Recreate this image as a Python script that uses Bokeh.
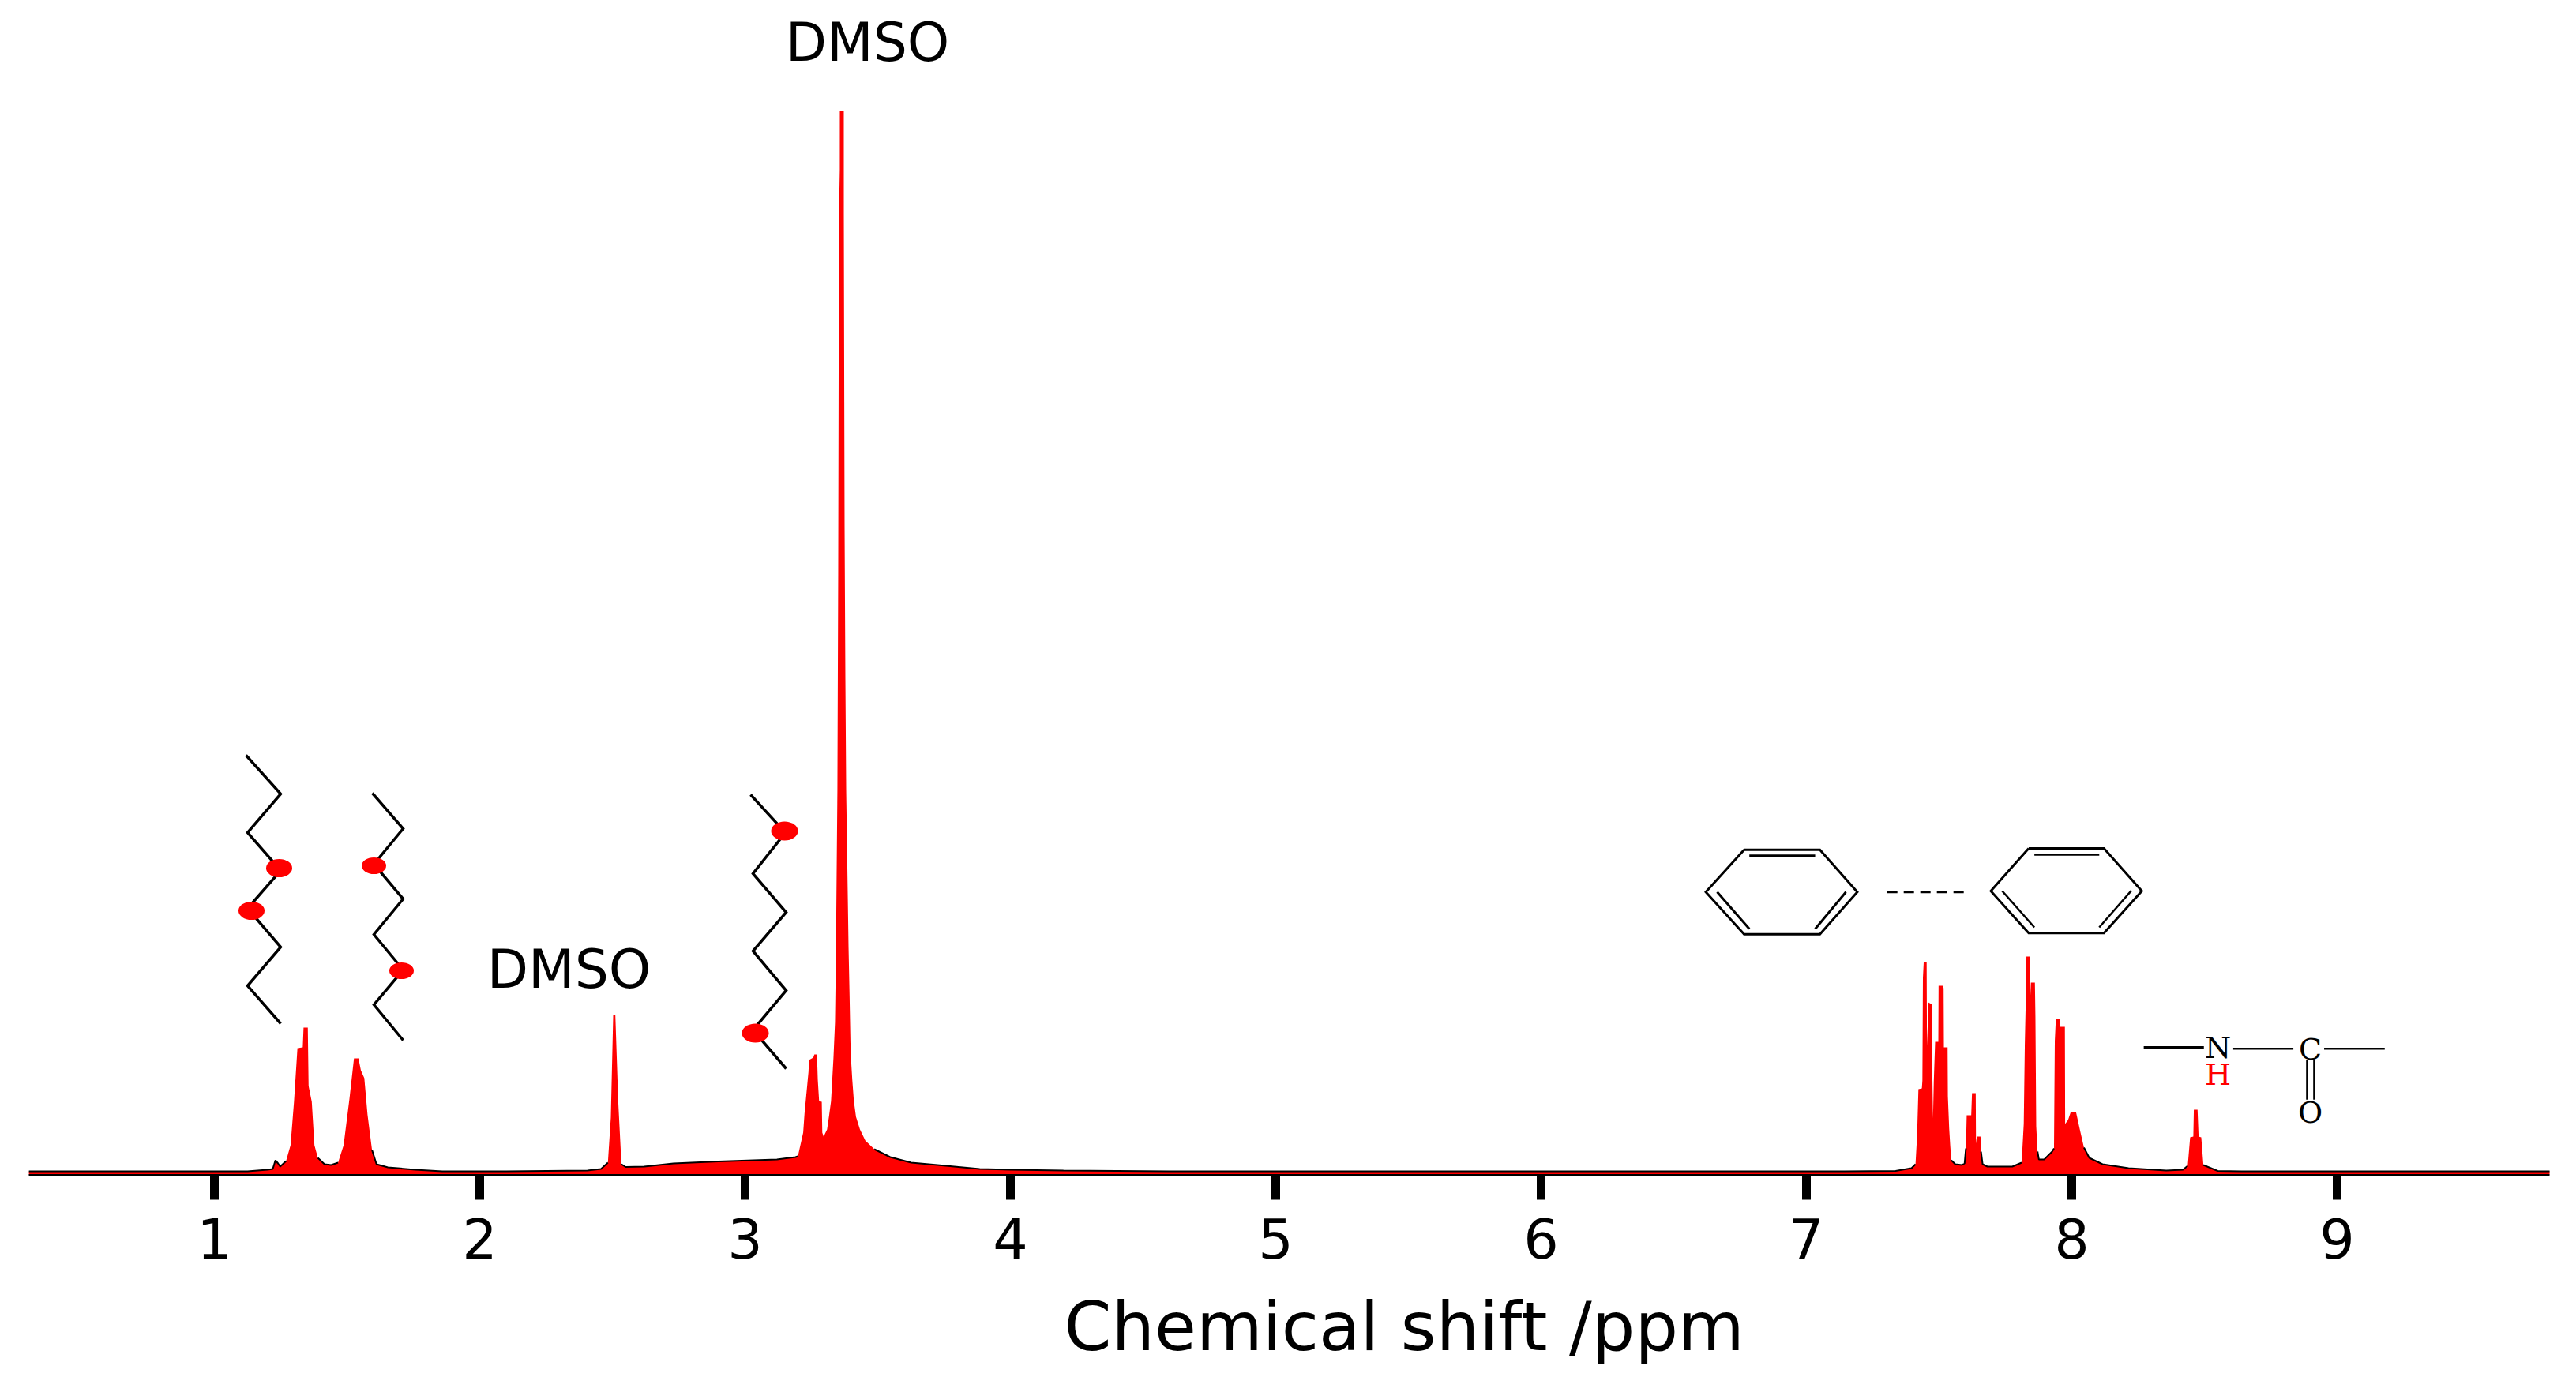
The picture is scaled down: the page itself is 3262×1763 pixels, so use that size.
from bokeh.plotting import figure
from bokeh.models import Range1d, FixedTicker, Title
from bokeh.core.properties import value
from bokeh.embed import file_html
from bokeh.resources import INLINE
import numpy as np

# ---------- spectrum ----------
ppm_low = [0.30, 0.60, 0.90, 1.125, 1.20, 1.22, 1.23, 1.24, 1.248, 1.27, 1.287, 1.30, 1.313, 1.333, 1.336,
           1.352, 1.355, 1.367, 1.377, 1.39, 1.415, 1.44, 1.466, 1.487, 1.509, 1.526, 1.543, 1.552, 1.565,
           1.577, 1.594, 1.611, 1.654, 1.757, 1.859, 2.10, 2.406, 2.457, 2.483, 2.494, 2.503, 2.511, 2.522,
           2.534, 2.55, 2.62, 2.73, 2.90, 3.12, 3.19]
int_low = [4, 4, 4, 4, 6, 7, 18, 14, 10, 17, 37, 92, 160, 161, 186,
           186, 112, 92, 37, 21, 13, 12, 15, 37, 96, 147, 147, 132, 122,
           76, 31, 13, 9, 6, 4, 4, 5, 7, 15, 72, 202, 202, 92,
           13, 9.5, 10, 14, 16.6, 19, 22]

ppm_water = [3.199, 3.219, 3.224, 3.239, 3.241, 3.257, 3.261, 3.271, 3.274, 3.279, 3.289, 3.291, 3.296, 3.309,
             3.316, 3.324, 3.333, 3.339, 3.342, 3.348, 3.351, 3.354, 3.357, 3.3571, 3.372, 3.3721, 3.375, 3.378,
             3.381, 3.390, 3.394, 3.398, 3.404, 3.41, 3.418, 3.433, 3.453, 3.487, 3.547, 3.626, 3.725, 3.884]
int_water = [23, 53, 77, 130, 145, 148, 152, 152, 120, 93, 92, 53, 48, 57,
             73, 93, 147, 193, 267, 487, 759, 1217, 1273, 1347, 1347, 1217, 822, 627,
             487, 287, 223, 153, 120, 93, 73, 57, 43, 32, 22, 15, 12, 7]

ppm_mid = [4.00, 4.20, 4.60, 5.00, 5.50, 6.00, 6.50, 7.144, 7.336]
int_mid = [6, 5, 4, 4, 4, 4, 4, 4, 4.5]

ppm_arom = [7.396, 7.411, 7.417, 7.422, 7.435, 7.437, 7.439, 7.442, 7.453, 7.454, 7.458, 7.459, 7.470, 7.472, 7.474,
            7.477, 7.480, 7.485, 7.497, 7.498, 7.513, 7.517, 7.518, 7.532, 7.533, 7.538, 7.542, 7.546, 7.561,
            7.586, 7.596, 7.601, 7.604, 7.621, 7.624, 7.638, 7.639, 7.642, 7.656, 7.658, 7.664, 7.682, 7.776,
            7.811, 7.819, 7.823, 7.826, 7.829, 7.842, 7.843, 7.846, 7.861, 7.863, 7.866, 7.871, 7.876, 7.896,
            7.926, 7.933, 7.936, 7.940, 7.954, 7.957, 7.974, 7.975, 7.986, 7.996, 8.016, 8.031, 8.046, 8.066,
            8.116, 8.214, 8.356, 8.419, 8.437, 8.446, 8.458, 8.46, 8.474, 8.478, 8.488, 8.496, 8.55, 8.64,
            9.00, 9.40, 9.81]
int_arom = [8, 13, 49, 108, 109, 119, 249, 269, 269, 186, 153, 218, 216, 216, 136,
            71, 118, 168, 168, 239, 239, 236, 161, 161, 99, 58, 36, 18, 13,
            12, 14, 33, 75, 75, 103, 103, 39, 48, 48, 29, 13, 10, 10,
            15, 64, 164, 211, 276, 276, 221, 243, 243, 199, 61, 29, 19, 19,
            29, 33, 169, 197, 197, 187, 187, 64, 69, 79, 79, 56, 34, 21,
            13, 8, 5, 6, 11, 47, 48, 82, 82, 48, 47, 12, 4.5, 4,
            4, 4, 4]

x_ticks = [1, 2, 3, 4, 5, 6, 7, 8, 9]
x_title = "Chemical shift /ppm"

ppm = np.array(ppm_low + ppm_water + ppm_mid + ppm_arom)
intensity = np.array(int_low + int_water + int_mid + int_arom, dtype=float)

# ---------- page layout ----------
W, H = 3246, 1763
X0, Y_AXIS = 271, 1487      # picture pixel of ppm = 1 and of intensity = 0
PX_PER_PPM = 336.0

def X(px):
    return 1 + (np.asarray(px, dtype=float) - X0) / PX_PER_PPM

def Y(py):
    return Y_AXIS - np.asarray(py, dtype=float)

p = figure(width=W, height=H, output_backend="svg", toolbar_location=None,
           x_range=Range1d(X(36), X(3228)), y_range=Range1d(-1, 1479),
           min_border_left=36, min_border_right=18, min_border_top=8, min_border_bottom=275,
           background_fill_color="white", border_fill_color="white")
p.outline_line_color = None
p.grid.visible = False
p.yaxis.visible = False

ax = p.xaxis[0]
ax.ticker = FixedTicker(ticks=x_ticks)
ax.axis_line_color = "black"
ax.axis_line_width = 3
ax.major_tick_line_color = "black"
ax.major_tick_line_width = 11
ax.major_tick_in = 0
ax.major_tick_out = 31
ax.minor_tick_line_color = None
ax.major_label_text_font = "DejaVu Sans"
ax.major_label_text_font_size = "70px"
ax.major_label_text_color = "black"
ax.major_label_standoff = 23

# spectrum: red fill with a thin black trace along its low tails
trace = np.where(intensity < 35, intensity, np.nan)
p.varea(x=ppm, y1=np.zeros_like(intensity), y2=intensity, fill_color="#ff0000")
p.line(ppm, trace, line_color="black", line_width=2)

STROKE = 3.5
def poly(xs, ys, width=STROKE, color="black", dash="solid"):
    p.line(X(xs), Y(ys), line_color=color, line_width=width, line_dash=dash, line_join="miter")

# alkyl chains
poly([311, 355, 313, 355, 313, 355, 313, 355], [956, 1005, 1054, 1102, 1150, 1199, 1248, 1296])
poly([471, 510, 473, 510, 473, 510, 473, 510], [1004, 1049, 1094, 1138, 1183, 1228, 1272, 1317])
poly([950, 994, 953, 995, 953, 995, 953, 995], [1006, 1054, 1106, 1155, 1204, 1254, 1304, 1353])

dot_x = [353, 318, 473, 508, 993, 956]
dot_y = [1099, 1153, 1096, 1229, 1052, 1308]
dot_w = [33, 33, 31, 31, 34, 34]
dot_h = [23, 23, 21, 21, 24, 24]
p.ellipse(x=X(dot_x), y=Y(dot_y), width=dot_w, height=dot_h, width_units="screen", height_units="screen",
          fill_color="#ff0000", line_color=None)

# benzene rings and the dashed link (coordinates from a 1.668 x 3 crop)
def RX(z):
    return 2120 + np.asarray(z, dtype=float) / 1.668

def RY(z):
    return 1040 + np.asarray(z, dtype=float) / 3.0

poly(RX([147, 307, 386, 307, 147, 66, 147]), RY([107, 107, 268, 428, 428, 268, 107]), 3)
poly(RX([158, 297]), RY([130, 130]), 3)
poly(RX([362, 297]), RY([268, 408]), 3)
poly(RX([90, 158]), RY([268, 408]), 3)
poly(RX([748, 907, 987, 907, 748, 668, 748]), RY([102, 102, 264, 424, 424, 264, 102]), 3)
poly(RX([760, 897]), RY([126, 126]), 2.5)
poly(RX([965, 897]), RY([262, 402]), 2.5)
poly(RX([692, 760]), RY([264, 402]), 2.5)
poly(RX([449, 611]), RY([268, 268]), 3, dash="13 8")

# amide group
poly(RX([991, 1118]), RY([858, 858]), 3)
poly(RX([1180, 1307]), RY([863, 863]), 2.5)
poly(RX([1372, 1500]), RY([863, 863]), 2.5)
poly(RX([1336, 1336]), RY([905, 1057]), 2.5)
poly(RX([1351, 1351]), RY([905, 1057]), 2.5)

atom_text = ["N", "H", "C", "O"]
atom_x = [2808, 2808, 2925, 2925]
atom_y = [1326, 1360, 1328, 1408]
atom_col = ["black", "#ff0000", "black", "black"]
p.text(x=X(atom_x), y=Y(atom_y), text=atom_text, text_color=atom_col,
       text_font=value("DejaVu Serif"), text_font_size=value("38px"),
       text_align="center", text_baseline="middle")

p.text(x=X([1098, 720]), y=Y([53, 1227]), text=["DMSO", "DMSO"], text_color="black",
       text_font=value("DejaVu Sans"), text_font_size=value("68px"),
       text_align="center", text_baseline="middle")

p.add_layout(Title(text=x_title, align="left", offset=1311, standoff=62, text_color="black",
                   text_font="DejaVu Sans", text_font_size="86px", text_font_style="normal"), "below")

open("out.html", "w").write(file_html(p, INLINE))
